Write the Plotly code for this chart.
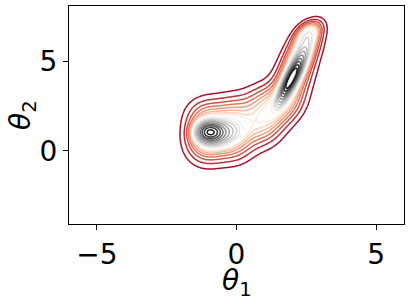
import numpy as np
import plotly.graph_objects as go

# Density components: centre x/y, sd x/y, correlation, weight
# (plateau of the banana shaped region, then the two sharp modes)
comp_mx = [-1.1, -1.1, -0.1, -0.1, 0.9, 0.95, 1.75, 1.95, 2.2, 2.45, 2.6,
           -0.97, -0.55, 1.95, 2.05]
comp_my = [0.35, 1.75, 0.45, 2.0, 1.35, 2.7, 2.5, 3.8, 5.0, 5.95, 6.65,
           1.06, 1.0, 4.0, 4.3]
comp_sx = [0.50, 0.50, 0.50, 0.50, 0.50, 0.48, 0.50, 0.50, 0.45, 0.40, 0.32,
           0.30, 0.50, 0.25, 0.35]
comp_sy = [0.80, 0.80, 0.80, 0.80, 0.80, 0.75, 0.80, 0.80, 0.75, 0.65, 0.45,
           0.35, 0.50, 0.70, 1.00]
comp_rho = [0.0, 0.0, 0.0, 0.0, 0.0, 0.0, 0.3, 0.4, 0.4, 0.4, 0.4,
            0.0, 0.2, 0.85, 0.8]
comp_w = [0.08, 0.08, 0.07, 0.07, 0.07, 0.05, 0.07, 0.07, 0.06, 0.05, 0.03,
          0.08, 0.07, 0.08, 0.07]

n_levels = 20
thresh = 0.05

x_range = [-6.0, 6.0]
y_range = [-4.07, 8.08]
x_ticks = [-5, 0, 5]
x_ticktext = ["\u22125", "0", "5"]
y_ticks = [0, 5]
y_ticktext = ["0", "5"]

# RdGy colour map anchors
rdgy = [(103, 0, 31), (178, 24, 43), (214, 96, 77), (244, 165, 130), (253, 219, 199),
        (255, 255, 255), (224, 224, 224), (186, 186, 186), (135, 135, 135), (77, 77, 77), (26, 26, 26)]


def cmap(t):
    t = min(max(t, 0.0), 1.0) * (len(rdgy) - 1)
    i = min(int(t), len(rdgy) - 2)
    f = t - i
    c = [round(rdgy[i][k] + f * (rdgy[i + 1][k] - rdgy[i][k])) for k in range(3)]
    return "rgb(%d,%d,%d)" % tuple(c)


xs = np.linspace(x_range[0], x_range[1], 280)
ys = np.linspace(y_range[0], y_range[1], 280)
X, Y = np.meshgrid(xs, ys)
Z = np.zeros_like(X)
for mx, my, sx, sy, r, w in zip(comp_mx, comp_my, comp_sx, comp_sy, comp_rho, comp_w):
    dx, dy = (X - mx) / sx, (Y - my) / sy
    q = (dx ** 2 - 2 * r * dx * dy + dy ** 2) / (1 - r ** 2)
    Z += w / (2 * np.pi * sx * sy * np.sqrt(1 - r ** 2)) * np.exp(-0.5 * q)

# iso-proportion levels (as seaborn kdeplot)
iso = np.linspace(thresh, 1, n_levels)
vals = np.sort(Z.ravel())[::-1]
cum = np.cumsum(vals) / vals.sum()
idx = np.searchsorted(cum, 1 - iso)
levels = np.take(vals, idx, mode="clip")[:-1]

fig = go.Figure()
nl = len(levels)
for i, lv in enumerate(levels):
    fig.add_trace(go.Contour(
        x=xs, y=ys, z=Z,
        contours=dict(start=lv, end=lv, size=1, coloring="none"),
        line=dict(color=cmap(0.08 + 0.92 * i / (nl - 1)), width=1.5, smoothing=1),
        showscale=False, hoverinfo="skip",
    ))

tick_font = dict(family="DejaVu Sans", size=28, color="black")
axis_common = dict(
    showline=True, linecolor="black", linewidth=1, mirror=True,
    ticks="outside", ticklen=5, tickcolor="black", showgrid=False, zeroline=False,
    tickfont=tick_font, automargin=False,
)
fig.update_layout(
    width=411, height=303,
    margin=dict(l=69, r=7, t=6, b=79),
    paper_bgcolor="white", plot_bgcolor="white",
    showlegend=False,
    xaxis=dict(range=x_range, tickvals=x_ticks, ticktext=x_ticktext, **axis_common),
    yaxis=dict(range=y_range, tickvals=y_ticks, ticktext=y_ticktext, **axis_common),
    annotations=[
        dict(text="<i>θ</i><sub>1</sub>", xref="paper", yref="paper", x=0.5, y=0,
             xanchor="center", yanchor="middle", yshift=-58, showarrow=False,
             font=dict(family="DejaVu Sans", size=28, color="black")),
        dict(text="<i>θ</i><sub>2</sub>", xref="paper", yref="paper", x=0, y=0.5,
             xanchor="center", yanchor="middle", xshift=-47, textangle=-90, showarrow=False,
             font=dict(family="DejaVu Sans", size=28, color="black")),
    ],
)
fig.write_html("out.html", config={"displayModeBar": False},
               post_script="document.body.style.margin='0';")
